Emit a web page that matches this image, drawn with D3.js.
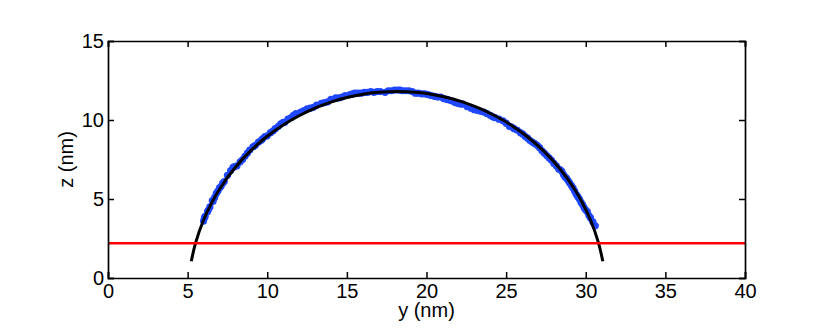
<!DOCTYPE html>
<html>
<head>
<meta charset="utf-8">
<script src="https://cdn.jsdelivr.net/npm/d3@7"></script>
<style>
  body { margin: 0; background: #fff; }
  svg text { font-family: "Liberation Sans", Arial, sans-serif; fill: #000; }
</style>
</head>
<body>
<div id="chart"></div>
<script>
// measured droplet profile (y, z in nm)
var pointY = [6.0, 6.1, 6.25, 6.4, 6.55, 6.7, 6.9, 7.1, 7.3, 7.7, 7.85, 8.1, 8.6, 8.9, 9.1, 9.45, 9.7,
  10.0, 10.2, 10.5, 10.85, 11.1, 11.5, 11.8, 12.1, 12.5, 12.9, 13.4, 13.8, 14.3, 14.7, 15.2, 15.5,
  15.9, 16.3, 16.7, 17.1, 17.4, 17.8, 18.2, 18.5, 18.9, 19.3, 19.7, 20.1, 20.5, 20.9, 21.3, 21.6,
  22.0, 22.3, 22.8, 23.2, 23.6, 24.0, 24.3, 24.8, 25.2, 25.5, 25.9, 26.2, 26.5, 26.8, 27.1, 27.4,
  27.7, 28.0, 28.3, 28.5, 28.7, 28.9, 29.1, 29.3, 29.5, 29.7, 29.9, 30.1, 30.3, 30.6,
  6.05, 6.3, 6.6, 6.8, 7.0, 7.2, 7.5, 7.95, 8.3, 8.45, 8.75, 9.25, 9.6, 9.85, 10.35, 10.7, 11.0,
  11.3, 11.65, 12.3, 12.7, 13.1, 13.6, 14.0, 14.5, 14.9, 15.35, 15.7, 16.1, 16.5, 16.9, 17.6, 18.0,
  18.35, 18.7, 19.1, 19.5, 19.9, 20.3, 20.7, 21.1, 21.45, 21.8, 22.15, 22.55, 23.0, 23.4, 23.8,
  24.15, 24.55, 25.0, 25.35, 25.7, 26.05, 26.35, 26.65, 26.95, 27.25, 27.55, 27.85, 28.15, 28.4,
  28.6, 28.8, 29.0, 29.2, 29.4, 29.6, 29.8, 30.0, 30.2, 30.45];
var pointZ = [3.6, 3.9, 4.2, 4.5, 4.9, 5.1, 5.5, 5.8, 6.1, 6.8, 7.0, 7.1, 7.7, 8.1, 8.3, 8.6, 8.8,
  9.0, 9.2, 9.45, 9.75, 9.85, 10.15, 10.4, 10.5, 10.7, 10.8, 11.05, 11.15, 11.4, 11.45, 11.6, 11.7,
  11.7, 11.75, 11.75, 11.8, 11.75, 11.85, 11.9, 11.85, 11.85, 11.7, 11.65, 11.6, 11.5, 11.45, 11.3, 11.2,
  11.05, 11.0, 10.75, 10.6, 10.5, 10.3, 10.15, 9.95, 9.6, 9.45, 9.2, 8.95, 8.7, 8.5, 8.25, 7.9,
  7.6, 7.25, 6.9, 6.75, 6.4, 6.15, 5.85, 5.5, 5.15, 4.8, 4.45, 4.2, 3.8, 3.3,
  3.8, 4.3, 4.85, 5.35, 5.7, 6.0, 6.5, 7.05, 7.35, 7.5, 7.9, 8.4, 8.7, 8.95, 9.3, 9.6, 9.85,
  10.05, 10.3, 10.6, 10.75, 10.95, 11.1, 11.3, 11.4, 11.55, 11.65, 11.7, 11.75, 11.8, 11.8, 11.85, 11.9,
  11.9, 11.85, 11.8, 11.7, 11.65, 11.55, 11.45, 11.35, 11.25, 11.1, 11.0, 10.85, 10.65, 10.55, 10.4,
  10.2, 10.05, 9.8, 9.55, 9.35, 9.1, 8.85, 8.6, 8.4, 8.05, 7.75, 7.45, 7.1, 6.85,
  6.55, 6.3, 6.0, 5.7, 5.3, 5.0, 4.65, 4.3, 3.95, 3.55];

// fitted circle
var fitY = [5.23, 5.5, 6, 6.5, 7, 8, 9, 10, 11, 12, 13, 14, 15, 16, 17, 18.15,
  19.3, 20.3, 21.3, 22.3, 23.3, 24.3, 25.3, 26.3, 27.3, 28.3, 29.3, 29.8, 30.3, 30.8, 31.07];
var fitZ = [1.06, 2.22, 3.67, 4.74, 5.62, 7.01, 8.09, 8.97, 9.69, 10.27, 10.75, 11.13, 11.42, 11.63, 11.75, 11.8,
  11.75, 11.63, 11.42, 11.13, 10.75, 10.27, 9.69, 8.97, 8.09, 7.01, 5.62, 4.74, 3.67, 2.22, 1.06];

// substrate level
var baseZ = 2.2;

var xTicks = [0, 5, 10, 15, 20, 25, 30, 35, 40];
var yTicks = [0, 5, 10, 15];

var width = 822, height = 332;
var margin = { top: 41, right: 77, bottom: 54, left: 108 };
var w = width - margin.left - margin.right;
var h = height - margin.top - margin.bottom;

var svg = d3.select('#chart').append('svg')
  .attr('width', width)
  .attr('height', height);

var g = svg.append('g')
  .attr('transform', 'translate(' + margin.left + ',' + margin.top + ')');

var x = d3.scaleLinear().domain([0, 40]).range([0, w]);
var y = d3.scaleLinear().domain([0, 15]).range([h, 0]);

var points = pointY.map(function (v, i) { return [v, pointZ[i]]; });
var fit = fitY.map(function (v, i) { return [v, fitZ[i]]; });

g.append('g').selectAll('circle')
  .data(points)
  .enter().append('circle')
  .attr('cx', function (d) { return x(d[0]); })
  .attr('cy', function (d) { return y(d[1]); })
  .attr('r', 3.6)
  .attr('fill', '#1f47ff');

g.append('path')
  .datum(fit)
  .attr('fill', 'none')
  .attr('stroke', '#000')
  .attr('stroke-width', 3)
  .attr('d', d3.line()
    .x(function (d) { return x(d[0]); })
    .y(function (d) { return y(d[1]); })
    .curve(d3.curveCatmullRom));

g.append('line')
  .attr('x1', x(0)).attr('x2', x(40))
  .attr('y1', y(baseZ)).attr('y2', y(baseZ))
  .attr('stroke', '#ff0000')
  .attr('stroke-width', 2.4);

// axes: ticks pointing inward, mirrored on top and right
var fontSize = '20px';

var xAxis = g.append('g')
  .attr('transform', 'translate(0,' + h + ')')
  .call(d3.axisBottom(x).tickValues(xTicks).tickSize(-6).tickPadding(6).tickFormat(d3.format('d')));
var xTop = g.append('g')
  .call(d3.axisTop(x).tickValues(xTicks).tickSize(-6).tickFormat(''));
var yAxis = g.append('g')
  .call(d3.axisLeft(y).tickValues(yTicks).tickSize(-6).tickPadding(4).tickFormat(d3.format('d')));
var yRight = g.append('g')
  .attr('transform', 'translate(' + w + ',0)')
  .call(d3.axisRight(y).tickValues(yTicks).tickSize(-6).tickFormat(''));

[xAxis, xTop, yAxis, yRight].forEach(function (a) {
  a.select('.domain').attr('stroke', '#000').attr('stroke-width', 1.7);
  a.selectAll('.tick line').attr('stroke', '#000').attr('stroke-width', 1.5);
  a.selectAll('.tick text').style('font-size', fontSize);
});

svg.append('text')
  .attr('x', margin.left + w / 2)
  .attr('y', 317)
  .attr('text-anchor', 'middle')
  .style('font-size', '20px')
  .text('y (nm)');

svg.append('text')
  .attr('transform', 'translate(73,' + (margin.top + h / 2) + ') rotate(-90)')
  .attr('text-anchor', 'middle')
  .style('font-size', '20px')
  .text('z (nm)');
</script>
</body>
</html>
